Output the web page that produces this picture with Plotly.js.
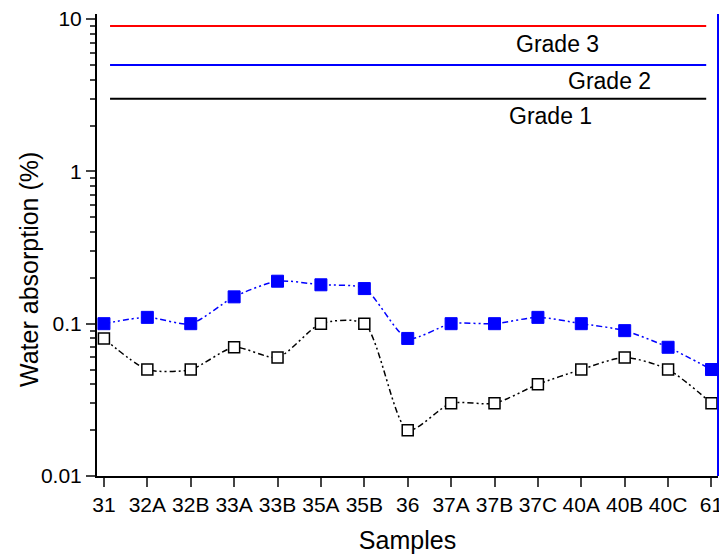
<!DOCTYPE html>
<html><head><meta charset="utf-8">
<script src="https://cdn.plot.ly/plotly-3.0.1.min.js"></script>
<style>body{margin:0;background:#fff}#plot{width:719px;height:556px}</style>
</head><body><div id="plot"></div>
<script>
const samples = ["31","32A","32B","33A","33B","35A","35B","36","37A","37B","37C","40A","40B","40C","61"];
const seriesFilled = [0.10,0.11,0.10,0.15,0.19,0.18,0.17,0.08,0.10,0.10,0.11,0.10,0.09,0.07,0.05];
const seriesOpen   = [0.08,0.05,0.05,0.07,0.06,0.10,0.10,0.02,0.03,0.03,0.04,0.05,0.06,0.05,0.03];
const gradeNames  = ["Grade 1","Grade 2","Grade 3"];
const gradeValues = [3,5,9];
const gradeColors = ["#000000","#0000ff","#ff0000"];
const yTickVals = [0.01,0.1,1,10];
const yTickText = ["0.01","0.1","1","10"];
const yTitle = "Water absorption (%)";
const xTitle = "Samples";

const minorVals = [];
yTickVals.slice(0,3).forEach(d=>{ for(let k=2;k<=9;k++) minorVals.push(+(d*k).toPrecision(3)); });

const idx = samples.map((s,i)=>i);
const dash = "6px,3px,2px,3px,2px,3px";
const traces = [
  {x: idx, y: seriesOpen, type:'scatter', mode:'lines+markers',
   line:{color:'#000', width:1.5, dash:dash, shape:'spline', smoothing:0.7},
   marker:{symbol:'square', size:11, color:'#fff', line:{color:'#000', width:1.5}}},
  {x: idx, y: seriesFilled, type:'scatter', mode:'lines+markers',
   line:{color:'#0000ff', width:1.5, dash:dash, shape:'spline', smoothing:0.7},
   marker:{symbol:'square', size:12, color:'#0000ff', line:{color:'#0000ff', width:1}}}
];
const xr = [-0.16, 14.15];
const shapes = gradeValues.map((v,i)=>({type:'line', xref:'paper', x0:0.021, x1:0.981, yref:'y', y0:v, y1:v,
  line:{color:gradeColors[i], width:2}}));
shapes.push({type:'line', xref:'paper', yref:'paper', x0:1, x1:1, y0:0, y1:1, line:{color:'#0000ff', width:2}});
const labelX = [0.731, 0.825, 0.741];
const labelShift = [-17, -16, -18];
const annotations = gradeValues.map((v,i)=>({x:labelX[i], xref:'paper', y:Math.log10(v), yref:'y',
  text:gradeNames[i], showarrow:false, xanchor:'center', yanchor:'middle', yshift:labelShift[i],
  font:{size:23, color:'#000', family:'Liberation Sans, Arial'}}));
annotations.push({x:-0.1095, xref:'paper', y:0.446, yref:'paper', text:yTitle, textangle:-90,
  showarrow:false, xanchor:'center', yanchor:'middle', font:{size:25, color:'#000', family:'Liberation Sans, Arial'}});

const layout = {
  width:719, height:556, margin:{l:97, r:1, t:14, b:80},
  paper_bgcolor:'#fff', plot_bgcolor:'#fff', showlegend:false,
  font:{family:'Liberation Sans, Arial', color:'#000'},
  xaxis:{range:xr, tickvals:idx, ticktext:samples, ticks:'outside', ticklen:9, tickwidth:2,
    ticklabeloverflow:'allow', automargin:false,
    showline:true, linewidth:2, linecolor:'#000', showgrid:false, zeroline:false,
    tickfont:{size:21}, title:{text:xTitle, font:{size:25}, standoff:16}},
  xaxis2:{range:xr, overlaying:'x', side:'top', anchor:'y', tickvals:idx, ticks:'inside', ticklen:5, tickwidth:2,
    showticklabels:false, showline:true, linewidth:2, linecolor:'#000', showgrid:false, zeroline:false},
  yaxis:{type:'log', range:[-2, 1.033], tickvals:yTickVals, ticktext:yTickText, ticks:'outside', ticklen:9, tickwidth:2,
    minor:{tickvals:minorVals, ticks:'outside', ticklen:5, tickwidth:2, showgrid:false},
    showline:true, linewidth:2, linecolor:'#000', showgrid:false, zeroline:false, automargin:false,
    tickfont:{size:21}},
  shapes:shapes, annotations:annotations
};
Plotly.newPlot('plot', traces, layout, {staticPlot:true});
</script></body></html>
